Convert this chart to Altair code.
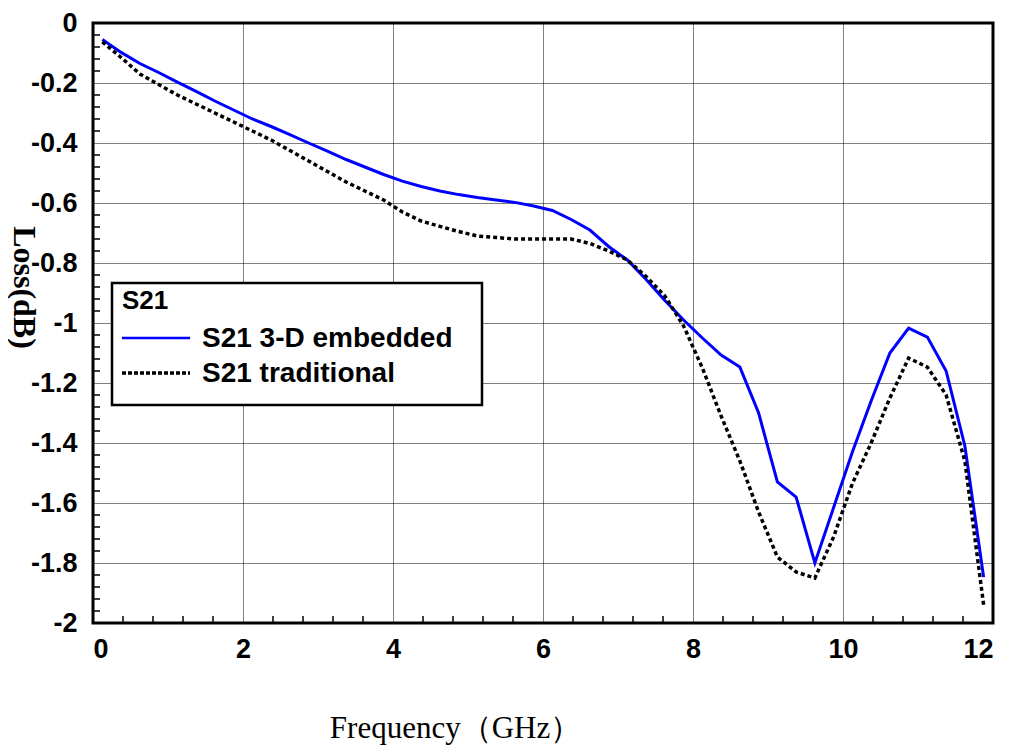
import altair as alt
import pandas as pd

freq = [0.125, 0.375, 0.625, 0.875, 1.125, 1.375, 1.625, 1.875, 2.125, 2.375,
        2.625, 2.875, 3.125, 3.375, 3.625, 3.875, 4.125, 4.375, 4.625, 4.875,
        5.125, 5.375, 5.625, 5.875, 6.125, 6.375, 6.625, 6.875, 7.125, 7.375,
        7.625, 7.875, 8.125, 8.375, 8.625, 8.875, 9.125, 9.375, 9.625, 9.875,
        10.125, 10.375, 10.625, 10.875, 11.125, 11.375, 11.625, 11.875]

s21_embedded = [-0.055, -0.098, -0.135, -0.165, -0.197, -0.228, -0.26, -0.29, -0.32, -0.345,
                -0.372, -0.40, -0.427, -0.455, -0.48, -0.505, -0.527, -0.545, -0.56, -0.572,
                -0.582, -0.59, -0.598, -0.61, -0.625, -0.655, -0.69, -0.745, -0.79, -0.855,
                -0.925, -0.99, -1.05, -1.107, -1.147, -1.30, -1.53, -1.58, -1.80, -1.615,
                -1.43, -1.26, -1.10, -1.017, -1.047, -1.16, -1.41, -1.847]

s21_traditional = [-0.063, -0.115, -0.17, -0.205, -0.24, -0.27, -0.30, -0.33, -0.36, -0.39,
                   -0.425, -0.46, -0.495, -0.53, -0.56, -0.59, -0.63, -0.66, -0.678, -0.695,
                   -0.71, -0.715, -0.72, -0.72, -0.72, -0.72, -0.735, -0.76, -0.79, -0.845,
                   -0.91, -1.01, -1.15, -1.31, -1.46, -1.63, -1.78, -1.83, -1.85, -1.713,
                   -1.535, -1.40, -1.25, -1.117, -1.147, -1.24, -1.46, -1.94]

series_names = ["S21 3-D embedded", "S21 traditional"]
legend_title = "S21"
x_ticks = [0, 2, 4, 6, 8, 10, 12]
y_ticks = [0, -0.2, -0.4, -0.6, -0.8, -1, -1.2, -1.4, -1.6, -1.8, -2]
x_minor = [round(i * 0.4, 2) for i in range(1, 30) if i % 5 != 0]
y_minor = [round(-i * 0.04, 2) for i in range(1, 50) if i % 5 != 0]

df_emb = pd.DataFrame({"f": freq, "loss": s21_embedded, "series": series_names[0]})
df_tra = pd.DataFrame({"f": freq, "loss": s21_traditional, "series": series_names[1]})

xscale = alt.Scale(domain=[0, 12], nice=False, zero=False, padding=0)
yscale = alt.Scale(domain=[-2, 0], nice=False, zero=False, padding=0)

xaxis = alt.Axis(values=x_ticks, ticks=False, domain=False, labelFontSize=27,
                 labelFont="Liberation Sans", labelFontWeight="bold", labelColor="black",
                 labelExpr="'' + datum.value",
                 labelPadding=13, grid=True, gridColor="black", gridDash=[1, 1], gridWidth=1,
                 title="Frequency（GHz）", titleFont="Liberation Serif", titleFontSize=31,
                 titleFontWeight="normal", titleColor="black", titleX=362, titleY=114,
                 titleAlign="center", titleBaseline="alphabetic")
yaxis = alt.Axis(values=y_ticks, ticks=False, domain=False, labelFontSize=27,
                 labelFont="Liberation Sans", labelFontWeight="bold", labelColor="black",
                 labelPadding=16, labelExpr="'' + datum.value", grid=True, gridColor="black",
                 gridDash=[1, 1], gridWidth=1,
                 title="Loss(dB)", titleFont="Liberation Serif", titleFontSize=32,
                 titleFontWeight="bold", titleColor="black", titleAngle=90, titleX=-70, titleY=264,
                 titleAlign="center", titleBaseline="middle")

line_emb = alt.Chart(df_emb).mark_line(strokeWidth=3, color="#0000FF").encode(
    x=alt.X("f:Q", scale=xscale, axis=xaxis),
    y=alt.Y("loss:Q", scale=yscale, axis=yaxis))
line_tra = alt.Chart(df_tra).mark_line(strokeWidth=3.5, color="black", strokeDash=[4, 3]).encode(
    x=alt.X("f:Q", scale=xscale),
    y=alt.Y("loss:Q", scale=yscale))

xminor = alt.Chart(pd.DataFrame({"v": x_minor})).mark_rule(color="black", strokeWidth=1.5).encode(
    x=alt.X("v:Q", scale=xscale), y=alt.value(600), y2=alt.value(593))
yminor = alt.Chart(pd.DataFrame({"v": y_minor})).mark_rule(color="black", strokeWidth=1.5).encode(
    y=alt.Y("v:Q", scale=yscale), x=alt.value(0), x2=alt.value(7))

# manual legend box
leg_box = alt.Chart(pd.DataFrame({"a": [0]})).mark_rect(
    fill="white", stroke="black", strokeWidth=2.5).encode(
    x=alt.value(19), x2=alt.value(389), y=alt.value(260), y2=alt.value(382))
leg_title = alt.Chart(pd.DataFrame({"t": [legend_title]})).mark_text(
    font="Liberation Sans", fontSize=26, fontWeight="bold", color="black",
    align="left", baseline="middle").encode(
    text="t:N", x=alt.value(29), y=alt.value(278))
leg_sym1 = alt.Chart(pd.DataFrame({"a": [0]})).mark_rule(color="#0000FF", strokeWidth=2.5).encode(
    x=alt.value(29), x2=alt.value(97), y=alt.value(315))
leg_sym2 = alt.Chart(pd.DataFrame({"a": [0]})).mark_rule(
    color="black", strokeWidth=3.5, strokeDash=[4, 2]).encode(
    x=alt.value(29), x2=alt.value(97), y=alt.value(350))
leg_lab1 = alt.Chart(pd.DataFrame({"t": [series_names[0]]})).mark_text(
    font="Liberation Sans", fontSize=28, fontWeight="bold", color="black",
    align="left", baseline="middle").encode(text="t:N", x=alt.value(109), y=alt.value(316))
leg_lab2 = alt.Chart(pd.DataFrame({"t": [series_names[1]]})).mark_text(
    font="Liberation Sans", fontSize=28, fontWeight="bold", color="black",
    align="left", baseline="middle").encode(text="t:N", x=alt.value(109), y=alt.value(351))

chart = alt.layer(xminor, yminor, line_emb, line_tra, leg_box, leg_title,
                  leg_sym1, leg_sym2, leg_lab1, leg_lab2).properties(
    width=900, height=600,
    autosize=alt.AutoSizeParams(type="none"),
    padding={"left": 85, "top": 15, "right": 8, "bottom": 124},
    background="white",
).configure_view(stroke="black", strokeWidth=3)

chart.save("out.html", embed_options={"renderer": "svg", "actions": False})
